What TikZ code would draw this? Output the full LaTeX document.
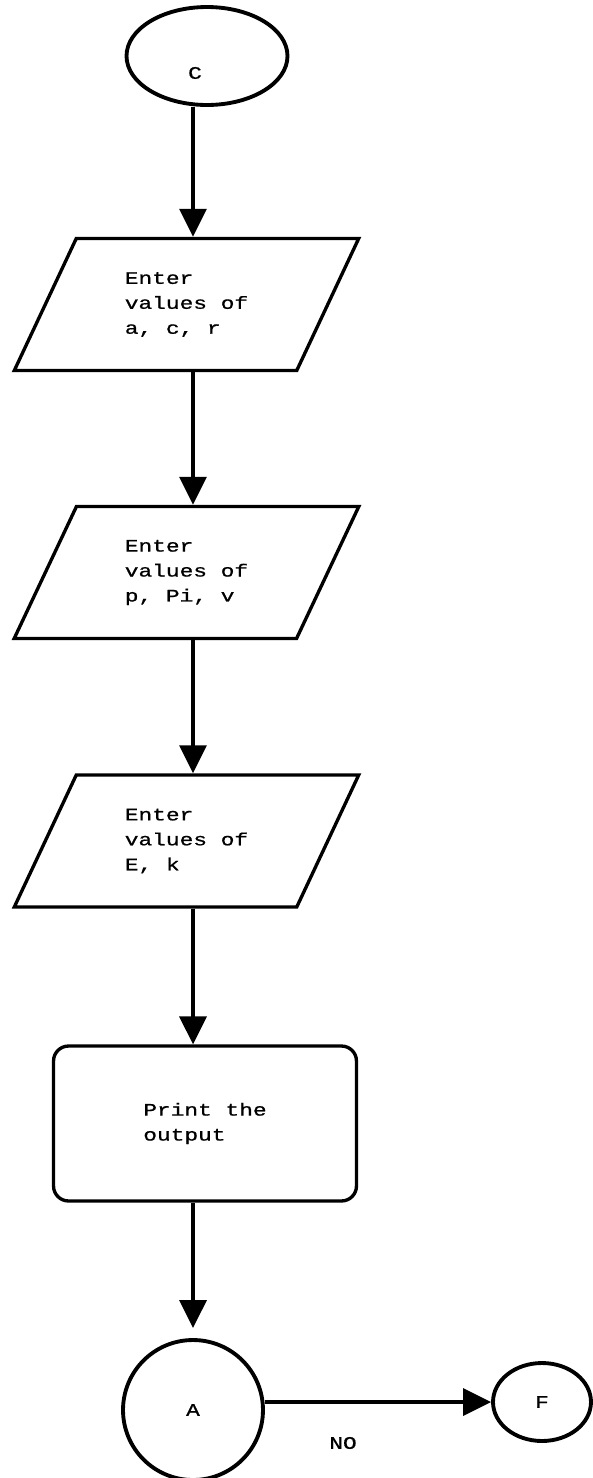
\documentclass[tikz,border=0pt]{standalone}
\usepackage{fontspec}
\newfontfamily\flowfont[FakeStretch=1.3, FakeBold=0.8]{Liberation Mono}
\usetikzlibrary{shapes.geometric, arrows.meta, positioning}

\tikzset{
    flowtext/.style={font=\flowfont\fontsize{10}{14.2}\selectfont, align=left},
    terminal/.style={draw, ellipse, line width=2.2pt},
    io/.style={draw, trapezium, trapezium left angle=63.6, trapezium right angle=116.4,
        trapezium stretches=true, minimum width=6.9cm, minimum height=2.64cm,
        line width=1.9pt, flowtext},
    process/.style={draw, rectangle, rounded corners=0.3cm, minimum width=6.06cm,
        minimum height=3.1cm, line width=1.9pt, flowtext},
    connector/.style={draw, circle, minimum size=2.8cm, line width=2.2pt, flowtext},
    flow/.style={-{Triangle[length=0.56cm,width=0.54cm]}, line width=1.9pt}
}

\begin{document}
\begin{tikzpicture}[x=0.02cm, y=-0.02cm]
\useasboundingbox (0,0) rectangle (592,1478);

% vertical line the arrows run along
\coordinate (spine) at (193,0);

\node[terminal, minimum width=3.22cm, minimum height=1.96cm] (start) at (207,56) {};
\node[flowtext] (startlbl) at (195,73) {C};

\node[io] (in1) at (186.5,304.5) {Enter\\values of\\a, c, r};
\node[io] (in2) at (186.5,572.5) {Enter\\values of\\p, Pi, v};
\node[io] (in3) at (186.5,841) {Enter\\values of\\E, k};

\node[process] (print) at (205,1123.5) {Print the\\output};

\node[connector] (A) at (193,1410) {A};
\node[terminal, minimum width=1.96cm, minimum height=1.56cm, flowtext] (F) at (542,1402) {F};
\node[flowtext] (no) at (343,1443) {NO};

\draw[flow] (start.south -| spine) -- (in1.north -| spine);
\draw[flow] (in1.south -| spine) -- (in2.north -| spine);
\draw[flow] (in2.south -| spine) -- (in3.north -| spine);
\draw[flow] (in3.south -| spine) -- (print.north -| spine);
\draw[flow, shorten >=0.2cm] (print.south -| spine) -- (A.north);
\draw[flow] (A.east |- F.west) -- (F.west);
\end{tikzpicture}
\end{document}
